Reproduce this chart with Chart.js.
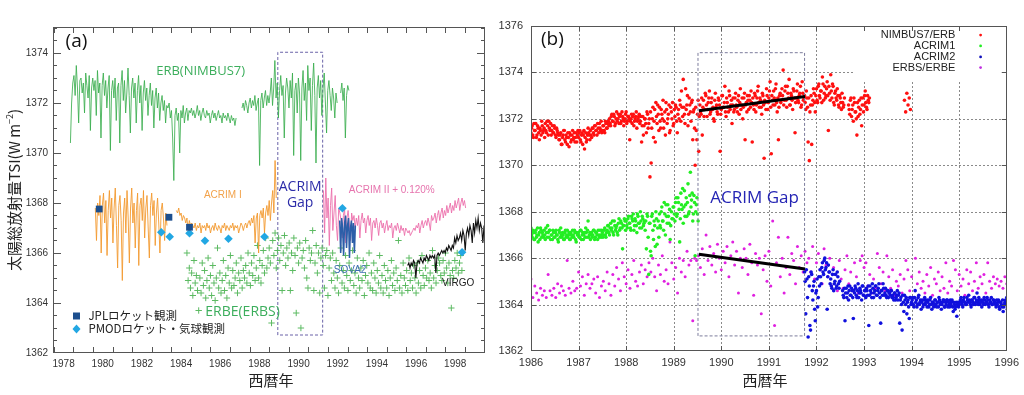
<!DOCTYPE html>
<html>
<head>
<meta charset="utf-8">
<title>太陽総放射量 TSI</title>
<script src="https://cdn.jsdelivr.net/npm/chart.js@4.4.1/dist/chart.umd.min.js"></script>
<style>
  html, body { margin: 0; padding: 0; background: #fff; }
  #wrap { position: relative; width: 1024px; height: 395px; overflow: hidden; }
  canvas { position: absolute; top: 0; }
  #chartA { left: 0; }
  #chartB { left: 490px; }
</style>
</head>
<body>
<div id="wrap">
  <canvas id="chartA" width="490" height="395"></canvas>
  <canvas id="chartB" width="534" height="395"></canvas>
</div>
<script>
// ===== (a) 各観測の TSI =====
const yearTicksA = [1978, 1980, 1982, 1984, 1986, 1988, 1990, 1992, 1994, 1996, 1998];
const tsiTicksA = [1362, 1364, 1366, 1368, 1370, 1372, 1374];

const erbStart = 1978.35, erbStep = 0.06;
const erb = [
  1370.4, 1372.0, 1372.8, 1373.1, 1372.3, 1373.5, 1372.6, 1371.2, 1372.9, 1373.0,
  1372.4, 1372.8, 1371.6, 1373.2, 1372.7, 1372.2, 1373.1, 1370.9, 1372.6, 1373.0,
  1372.5, 1372.9, 1371.5, 1373.3, 1372.4, 1372.8, 1370.6, 1372.7, 1373.2, 1372.3,
  1372.9, 1371.8, 1372.6, 1373.1, 1370.1, 1372.5, 1372.9, 1372.2, 1373.0, 1371.3,
  1372.6, 1372.8, 1370.4, 1372.7, 1373.3, 1372.1, 1372.9, 1371.6, 1372.4, 1373.4,
  1372.3, 1370.8, 1372.6, 1373.0, 1372.2, 1372.8, 1371.2, 1372.5, 1373.1, 1372.0,
  1372.7, 1370.9, 1372.4, 1372.9, 1372.1, 1372.6, 1371.5, 1372.3, 1372.8, 1371.9,
  1372.5, 1371.0, 1372.2, 1372.6, 1371.8, 1372.4, 1371.3, 1372.0, 1372.3, 1371.7,
  1372.1, 1371.2, 1371.9,
  1371.8, 1372.0, 1371.4, 1371.7, 1370.6, 1368.9, 1371.5, 1371.8, 1371.3, 1371.6,
  1370.0, 1371.7, 1371.4, 1371.9, 1371.2, 1371.6, 1371.8, 1371.3, 1371.7,
  1371.6, 1371.8, 1371.5, 1371.7, 1371.4, 1371.6, 1371.9, 1371.5, 1371.7, 1371.3,
  1371.6, 1371.8, 1371.5, 1371.4, 1371.7, 1371.5, 1371.6, 1371.2, 1371.5, 1371.7,
  1371.4, 1371.6, 1371.3, 1371.5, 1371.7, 1371.4, 1371.5, 1371.2, 1371.6, 1371.4,
  1371.5, 1371.3, 1371.6, 1371.4, 1371.2, 1371.5, 1371.3, 1371.4, 1371.1, 1371.4,
  null, null, null, null,
  1371.8, 1372.0, 1371.7, 1372.1, 1371.9, 1371.6, 1372.0, 1372.2, 1371.8, 1372.1,
  1371.9, 1372.3, 1371.7, 1372.0, 1372.2, 1369.5, 1372.1, 1372.4, 1371.8, 1372.2,
  1372.5, 1371.9, 1372.3, 1372.0,
  1372.4, 1373.0, 1371.9, 1372.6, 1373.7, 1372.2, 1372.8, 1371.4, 1372.5, 1373.1,
  1372.3, 1372.7, 1370.6, 1372.4, 1373.0, 1372.6, 1371.8, 1372.9, 1372.2, 1373.2,
  1369.9, 1372.5, 1372.8, 1371.6, 1373.0, 1372.4, 1369.7, 1372.6, 1373.3, 1372.1,
  1372.8, 1371.3, 1373.5, 1372.5, 1373.0, 1370.9, 1372.7, 1373.6, 1372.3, 1369.6,
  1372.6, 1373.1, 1372.2, 1372.9, 1371.5, 1372.6, 1373.2, 1372.0, 1370.8, 1372.5,
  1372.9, 1372.3, 1371.7, 1372.6, 1372.2, 1371.4, 1372.4, 1372.0,
  null, null,
  1372.4, 1372.8, 1372.1, 1372.6, 1370.6, 1372.3, 1372.7, 1372.5
];

const acrim1Start = 1979.62, acrim1Step = 0.06;
const acrim1 = [
  1367.8, 1366.5, 1368.0, 1367.5, 1368.3, 1366.0, 1367.9, 1368.4, 1367.2, 1368.1,
  1365.9, 1367.7, 1368.5, 1367.4, 1368.2, 1366.4, 1367.8, 1368.6, 1367.1, 1365.4,
  1367.9, 1368.3, 1367.3, 1364.9, 1367.6, 1368.2, 1366.8, 1368.5, 1367.4, 1365.6,
  1367.8, 1368.6, 1367.2, 1368.0, 1366.2, 1367.7, 1368.4, 1365.5, 1367.9, 1368.2,
  1367.3, 1368.5, 1366.6, 1367.8, 1368.3, 1367.0, 1365.8, 1367.9, 1368.4, 1367.5,
  1368.1, 1366.3, 1367.6, 1368.2, 1367.2, 1366.0, 1367.7, 1368.0, 1367.4, 1366.5,
  1367.6, 1367.1,
  null, null, null, null, null, null, null,
  1367.7, 1367.6, 1367.8, 1367.5, 1367.6, 1367.3, 1367.5, 1367.4, 1367.2, 1367.4,
  1366.9, 1367.3, 1367.1, 1367.2,
  1367.1, 1367.0, 1367.2, 1366.9, 1367.1, 1367.0, 1367.2, 1366.8, 1367.1, 1367.0,
  1367.1, 1366.9, 1367.2, 1367.0, 1367.1, 1366.8, 1367.0, 1367.1, 1366.9, 1367.2,
  1367.0, 1366.9, 1367.1, 1367.0, 1366.8, 1367.1, 1367.0, 1367.2, 1366.9, 1367.1,
  1367.0, 1366.9, 1367.1, 1367.0, 1367.2, 1366.9, 1367.1, 1367.0, 1367.1, 1366.8,
  1367.0, 1367.2, 1367.1, 1366.9, 1367.1, 1367.2, 1367.0, 1367.2,
  1367.3, 1367.1, 1367.4, 1367.2, 1367.5, 1366.4, 1367.4, 1367.6, 1366.0, 1367.5,
  1367.7, 1367.4, 1367.8, 1366.8, 1367.6, 1367.9, 1367.5, 1368.1, 1367.3, 1368.0,
  1368.5, 1367.6, 1369.7, 1368.2
];

const acrim2Start = 1991.27, acrim2Step = 0.06;
const acrim2 = [
  1368.5, 1366.8, 1369.0, 1367.4, 1368.2, 1366.3, 1367.9, 1368.6, 1366.9, 1367.6,
  1368.3, 1367.1, 1366.5, 1367.8,
  1367.6, 1367.3, 1366.6, 1367.5, 1367.8, 1366.4, 1367.4, 1367.7, 1367.2, 1366.5,
  1367.6, 1367.3, 1367.5, 1367.0,
  1367.4, 1367.1, 1367.5, 1366.6, 1367.3, 1367.6, 1367.2, 1367.4, 1366.8, 1367.3,
  1367.5, 1367.1, 1367.4, 1366.5, 1367.2, 1367.3, 1367.0, 1367.4, 1367.1, 1366.7,
  1367.2, 1367.3, 1367.0, 1367.2, 1366.8, 1367.1, 1367.3, 1366.9, 1367.1, 1367.0,
  1367.2, 1366.6, 1367.0, 1367.1, 1366.9, 1367.2, 1367.0, 1366.8, 1367.1, 1366.9,
  1367.0, 1366.7, 1367.0, 1366.9,
  1366.8, 1366.9, 1366.7, 1366.8, 1366.9,
  1367.0, 1366.9, 1367.1, 1367.0, 1367.2, 1366.8, 1367.1, 1367.3, 1367.0, 1367.2,
  1367.3, 1367.1, 1367.4, 1367.2, 1366.9, 1367.5, 1367.3, 1367.4, 1367.6, 1367.2,
  1367.5, 1367.7, 1367.3, 1367.6, 1367.8, 1367.4, 1367.7, 1367.5, 1367.9, 1367.6,
  1367.8, 1368.0, 1367.6, 1367.9, 1367.7, 1368.1, 1367.8, 1368.0, 1368.2, 1367.7,
  1368.0, 1368.2, 1367.9, 1368.1, 1367.8
];

const sova2Start = 1992.1, sova2Step = 0.05;
const sova2 = [1367.3, 1366.0, 1367.4, 1367.0, 1365.9, 1367.2, 1367.5, 1366.2, 1367.1,
  1367.4, 1365.8, 1367.0, 1367.3, 1366.4, 1367.2, 1366.0, 1367.1];

const virgoStart = 1995.57, virgoStep = 0.06;
const virgo = [
  1365.5, 1365.6, 1365.4, 1365.6, 1365.5, 1365.7, 1365.6, 1365.0, 1365.6, 1365.7,
  1365.6, 1365.8, 1365.7, 1365.6, 1365.8, 1365.7, 1365.9, 1365.8, 1365.7, 1365.9,
  1365.8, 1365.9, 1365.8, 1365.9, 1365.2, 1365.9, 1366.0, 1365.9, 1366.0, 1366.1,
  1366.0, 1366.1, 1366.0, 1366.2, 1366.1, 1366.3, 1366.2, 1366.1, 1366.3, 1366.2,
  1366.6, 1366.4, 1366.7, 1366.5, 1366.6, 1366.8, 1366.5, 1366.9, 1366.7, 1366.1,
  1366.8, 1367.0, 1366.7, 1367.1, 1366.9, 1366.4, 1367.2, 1366.8, 1367.3, 1367.0,
  1367.4, 1366.9, 1367.2, 1367.0, 1366.4, 1367.1
];

const erbeStart = 1984.3, erbeStep = 0.06;
const erbe = [
  1366.0, 1364.9, 1365.4, 1364.6, 1365.2, 1364.3, 1365.7, 1364.8, 1365.1, 1364.5,
  1363.7, 1365.0, 1364.4, 1365.6, 1364.7, 1365.3, 1364.2, 1364.9, 1365.8, 1364.6,
  1365.1, 1364.3, 1365.5, 1364.8, 1364.1, 1365.0, 1366.2, 1364.6, 1365.2, 1364.4,
  1364.9, 1365.7, 1364.5, 1365.1, 1364.2, 1365.4, 1364.8, 1365.9, 1364.6, 1365.3,
  1364.7, 1365.0, 1365.6, 1364.4, 1365.2, 1364.9, 1365.8, 1364.6, 1365.3, 1365.0,
  1365.5, 1364.8, 1366.0, 1365.2, 1364.7, 1365.6, 1365.1, 1365.9, 1364.9, 1365.4,
  1366.3, 1365.0, 1365.7, 1364.8, 1365.5, 1366.1, 1365.2, 1366.6, 1365.4, 1365.8,
  1366.2, 1365.6, 1363.2, 1366.5, 1365.9, 1366.8, 1365.4, 1366.1, 1366.6, 1365.7,
  1366.3, 1364.5, 1366.0, 1366.7, 1365.5, 1366.2, 1365.8, 1366.4, 1364.5, 1366.0,
  1365.3, 1366.6, 1365.9, 1363.6, 1366.2, 1365.6, 1366.4, 1363.0, 1365.8, 1366.1,
  1365.4, 1366.5, 1365.0, 1364.6, 1366.2, 1365.7, 1366.0, 1366.9, 1364.5, 1365.6,
  1366.3, 1365.2, 1366.0, 1364.4, 1365.8, 1366.2, 1365.5,
  1364.6, 1365.9, 1366.1, 1364.3, 1365.4, 1365.8, 1364.9, 1366.0, 1365.2, 1364.6,
  1365.7, 1365.0, 1364.4, 1365.5, 1366.2, 1364.8, 1365.3, 1364.6, 1365.9, 1365.1,
  1364.5, 1365.6, 1364.9, 1365.3, 1366.1, 1364.7, 1365.2, 1364.4, 1365.8, 1365.0,
  1364.6, 1365.4, 1364.9, 1365.7, 1364.3, 1365.1, 1365.5, 1364.8, 1366.0, 1364.6,
  1365.2, 1364.5, 1365.6, 1365.0, 1364.4, 1365.3, 1364.8, 1365.9, 1364.6, 1365.1,
  1364.4, 1365.5, 1364.9, 1364.6, 1365.3, 1364.3, 1365.0, 1365.7, 1364.7, 1365.2,
  1364.5, 1365.4, 1364.9, 1366.5, 1364.6, 1365.1, 1364.4, 1365.6, 1365.0, 1364.7,
  1365.3, 1364.5, 1365.8, 1364.9, 1365.2, 1364.6, 1365.5, 1365.0, 1364.4, 1365.6,
  1364.8, 1365.3, 1364.6, 1365.9, 1365.1, 1364.7, 1365.4, 1365.0, 1365.7, 1364.9,
  1365.2, 1364.6, 1366.1, 1365.0, 1365.5, 1364.8, 1365.3, 1365.8, 1365.6, 1365.1,
  1364.9, 1365.7, 1365.2, 1366.0, 1365.4, 1364.8, 1365.6, 1365.1, 1363.8, 1365.3,
  1365.0, 1365.7, 1365.4, 1366.0, 1365.2, 1365.6, 1365.9, 1365.3
];

const jplYears = [1979.82, 1983.38, 1984.43];
const jplTsi = [1367.76, 1367.43, 1367.03];
const pmodYears = [1982.99, 1983.42, 1984.43, 1985.22, 1986.42, 1988.26, 1992.24, 1998.35];
const pmodTsi = [1366.83, 1366.65, 1366.79, 1366.49, 1366.57, 1366.65, 1367.79, 1366.03];
const gapYearsA = [1988.94, 1991.23];
const gapTsiA = [1362.72, 1374.03];

// ===== (b) ACRIM Gap 周辺 =====
const yearTicksB = [1986, 1987, 1988, 1989, 1990, 1991, 1992, 1993, 1994, 1995, 1996];
const tsiTicksB = [1362, 1364, 1366, 1368, 1370, 1372, 1374, 1376];
const legendB = ['NIMBUS7/ERB', 'ACRIM1', 'ACRIM2', 'ERBS/ERBE'];
const stepB = 0.025;

const nimbusStart = 1986.0;
const nimbus = [
  1371.4, 1371.7, 1371.2, 1371.5, 1371.8, 1371.3, 1371.6, 1371.1, 1371.5, 1371.9, 1371.4, 1371.6,
  1371.8, 1371.4, 1371.7, 1371.9, 1371.5, 1371.3, 1371.7, 1371.4, 1371.6, 1371.2, 1371.5, 1371.3,
  1371.1, 1371.4, 1370.9, 1371.3, 1371.5, 1371.0, 1371.2, 1371.4, 1370.8, 1371.3, 1371.1, 1371.5,
  1371.2, 1371.0, 1371.4, 1371.3,
  1371.2, 1371.5, 1371.0, 1371.4, 1371.3, 1370.7, 1371.4, 1371.1, 1371.6, 1371.3, 1371.5, 1371.2,
  1371.6, 1371.3, 1371.7, 1371.5, 1371.8, 1371.4, 1371.6, 1371.9, 1371.5, 1371.7, 1371.4, 1371.8,
  1371.6, 1371.9,
  1372.0, 1371.7, 1372.2, 1371.9, 1372.1, 1371.8, 1372.3, 1372.0, 1371.8, 1372.2, 1371.9, 1372.1,
  1371.7, 1372.0, 1372.3, 1371.9, 1372.1, 1371.1, 1372.0, 1371.8, 1372.2, 1371.9, 1372.1, 1371.6,
  1372.0, 1372.2,
  1371.9, 1371.0, 1372.1, 1371.7, 1372.0, 1371.4, 1372.2, 1371.8,
  1369.5, 1370.1, 1372.0, 1371.2, 1372.4, 1372.7, 1371.8, 1372.2,
  1372.5, 1371.6, 1372.2, 1372.8, 1371.9, 1371.3, 1372.4, 1372.0, 1372.6, 1371.5, 1372.3, 1372.7,
  1371.8, 1372.1, 1372.5, 1371.4,
  1372.4, 1372.8, 1371.9, 1372.5, 1373.7, 1372.2, 1373.3, 1372.6, 1371.7, 1372.9, 1372.3, 1372.7,
  1371.1, 1372.4,
  1370.0, 1371.5, 1372.2, 1370.6,
  1372.6, 1372.2, 1371.3, 1372.8, 1372.4, 1373.0, 1372.1, 1372.7, 1373.2, 1372.3,
  1372.9, 1372.5, 1371.9, 1373.1, 1372.6, 1372.2, 1372.8, 1370.6, 1372.4, 1373.0,
  1372.5, 1373.4, 1372.1, 1372.7, 1372.3, 1373.0, 1372.6, 1371.8, 1372.9, 1372.4,
  1373.1, 1372.5, 1372.8, 1372.2, 1373.3, 1372.6, 1372.0, 1372.9, 1371.1, 1372.7,
  1373.0, 1372.4, 1372.8, 1373.2, 1371.0, 1372.6, 1373.1, 1372.3, 1372.9, 1373.4,
  1372.5, 1372.8, 1372.2, 1373.0, 1370.3, 1372.7, 1373.3, 1372.4, 1372.9, 1373.6,
  1370.5, 1372.8, 1373.2, 1372.6, 1373.5, 1372.3, 1371.1, 1373.0, 1372.7, 1373.3,
  1374.1, 1372.8, 1373.4, 1372.5, 1373.1, 1373.7, 1372.6, 1373.0, 1372.4, 1373.2,
  1371.4, 1372.9, 1373.5, 1372.7, 1373.1, 1372.5, 1373.6, 1372.8,
  1373.0, 1372.4, 1372.9, 1371.0, 1370.2, 1372.6, 1370.9, 1372.8, 1373.1, 1372.3,
  1373.3, 1372.7, 1373.5, 1372.9, 1373.2, 1373.8, 1372.8, 1373.4, 1373.0, 1373.6,
  1371.5, 1373.1, 1373.9, 1372.9, 1373.4, 1372.6, 1373.2, 1372.8, 1373.0, 1372.5,
  1372.9, 1372.4, 1372.7, 1372.6,
  null, null, null,
  1372.6, 1372.2, 1372.9, 1372.4, 1371.9, 1372.7, 1372.3, 1371.3, 1372.1, 1372.8,
  1372.4, 1371.7, 1372.9, 1372.6, 1373.2, 1372.5, 1373.0, 1372.7
];
// 半ステップずらした2本目の日次サンプル
const nimbusBStart = 1986.0125;
const nimbusB = [
  1371.6, 1371.3, 1371.8, 1371.5, 1371.2, 1371.7, 1371.4, 1371.6, 1371.3, 1371.7, 1371.5, 1371.2,
  1371.5, 1371.9, 1371.3, 1371.6, 1371.8, 1371.5, 1371.4, 1371.7, 1371.3, 1371.6, 1371.4, 1371.1,
  1371.3, 1370.9, 1371.2, 1371.5, 1371.1, 1371.3, 1370.9, 1371.2, 1371.4, 1371.0, 1371.3, 1371.1,
  1371.4, 1371.2, 1371.0, 1371.5,
  1371.4, 1371.1, 1371.3, 1370.9, 1371.5, 1371.2, 1371.0, 1371.3, 1371.4, 1371.1, 1371.3, 1371.6,
  1371.4, 1371.7, 1371.5, 1371.3, 1371.6, 1371.8, 1371.5, 1371.4, 1371.7, 1371.5, 1371.9, 1371.6,
  1371.8, 1371.7,
  1371.8, 1372.1, 1371.9, 1372.2, 1371.7, 1372.0, 1371.9, 1372.2, 1372.1, 1371.8, 1372.3, 1372.0,
  1371.9, 1372.2, 1371.8, 1372.1, 1372.0, 1371.9, 1372.2, 1372.1, 1371.7, 1372.0, 1372.3, 1371.9,
  1372.1, 1371.8,
  1372.1, 1371.7, 1371.3, 1372.0, 1371.8, 1372.3, 1371.6, 1372.0,
  1372.3, 1371.6, 1372.5, 1371.9, 1371.0, 1372.1, 1372.6, 1371.5,
  1371.9, 1372.4, 1372.0, 1371.6, 1372.3, 1372.7, 1371.8, 1372.2, 1371.4, 1372.5, 1372.0, 1371.7,
  1372.4, 1372.6, 1371.9, 1372.2,
  1372.0, 1372.6, 1373.2, 1372.1, 1372.5, 1371.8, 1372.4, 1373.0, 1372.2, 1372.6, 1371.9, 1372.8,
  1372.3, 1371.6,
  1372.5, 1371.1, 1372.8, 1372.1,
  1372.3, 1372.9, 1372.5, 1372.1, 1373.1, 1372.6, 1372.4, 1372.9, 1372.2, 1372.7,
  1372.4, 1372.0, 1372.8, 1372.5, 1372.3, 1372.9, 1372.6, 1372.2, 1373.0, 1372.5,
  1372.7, 1372.3, 1372.9, 1372.5, 1373.2, 1372.4, 1372.8, 1372.6, 1372.3, 1372.9,
  1372.6, 1372.3, 1373.0, 1372.7, 1372.4, 1372.9, 1372.5, 1373.1, 1372.6, 1372.3,
  1372.8, 1373.0, 1372.5, 1372.7, 1372.9, 1372.4, 1373.0, 1372.6, 1373.2, 1372.7,
  1372.9, 1372.5, 1373.1, 1372.6, 1372.8, 1372.4, 1373.0, 1372.7, 1373.2, 1372.5,
  1373.0, 1372.6, 1372.9, 1373.3, 1372.7, 1372.9, 1372.5, 1373.1, 1372.8, 1373.0,
  1372.6, 1373.2, 1372.8, 1373.4, 1372.9, 1372.6, 1373.1, 1372.8, 1373.3, 1372.9,
  1372.7, 1373.2, 1372.8, 1373.0, 1373.4, 1372.6, 1373.1, 1372.9,
  1372.7, 1373.2, 1372.5, 1372.9, 1372.3, 1373.0, 1372.6, 1373.3, 1372.7, 1373.0,
  1372.8, 1373.4, 1373.0, 1373.2, 1372.7, 1373.5, 1373.1, 1372.9, 1373.3, 1373.0,
  1373.4, 1372.8, 1373.2, 1373.5, 1372.7, 1373.1, 1372.9, 1373.3, 1372.6, 1373.0,
  1372.7, 1373.1, 1372.5, 1372.9,
  null, null, null,
  1372.4, 1372.8, 1372.1, 1372.6, 1372.9, 1372.3, 1372.0, 1372.7, 1372.5, 1372.2,
  1372.9, 1372.6, 1372.3, 1373.0, 1372.7, 1372.4, 1372.8, 1372.9
];
const nimbusLateStart = 1993.85;
const nimbusLate = [1372.8, 1372.3, 1373.1, 1372.6, 1372.9, 1372.4];

const acrimOneStart = 1986.0;
const acrimOne = [
  1367.3, 1366.9, 1367.1, 1366.8, 1367.2, 1367.0, 1366.7, 1367.1, 1367.3, 1366.9,
  1367.0, 1367.2, 1366.8, 1367.1, 1367.4, 1366.9, 1367.2, 1367.0, 1366.8, 1367.1,
  1366.9, 1367.2, 1367.0, 1366.7, 1367.1, 1367.3, 1366.9, 1367.0, 1366.8, 1367.2,
  1367.0, 1366.9, 1367.1, 1366.8, 1367.0, 1367.2, 1366.9, 1367.1, 1366.7, 1367.0,
  1367.1, 1366.9, 1367.2, 1367.0, 1366.8, 1367.1, 1367.3, 1366.9, 1367.6, 1367.0,
  1366.8, 1367.1, 1367.0, 1367.2, 1366.9, 1367.1, 1366.8, 1367.0, 1367.2, 1366.9,
  1367.1, 1367.0, 1367.3, 1366.9,
  1367.2, 1367.4, 1367.0, 1367.5, 1367.3, 1367.1, 1367.6, 1367.2, 1367.4, 1367.0,
  1367.7, 1367.3, 1367.5, 1366.4, 1367.4, 1367.6,
  1367.6, 1367.3, 1367.8, 1367.5, 1367.2, 1367.7, 1367.9, 1367.4, 1367.6, 1367.1,
  1367.8, 1367.5, 1368.0, 1367.3, 1367.7, 1367.5,
  1367.2, 1366.4, 1367.8, 1365.3, 1367.5, 1366.1, 1367.9, 1366.8, 1367.4, 1368.0,
  1366.6, 1367.6,
  1367.9, 1367.3, 1368.2, 1367.6, 1368.4, 1367.0, 1367.8, 1368.3, 1367.5, 1366.8,
  1368.0, 1367.7,
  1368.2, 1367.6, 1368.6, 1367.9, 1368.4, 1366.7, 1368.8, 1368.1, 1367.5, 1368.9,
  1368.3, 1367.8, 1369.2, 1368.0, 1369.7, 1368.5, 1367.6, 1368.7, 1366.1, 1368.3,
  1367.9
];
const acrimOneBStart = 1986.0125;
const acrimOneB = [
  1367.0, 1367.2, 1366.8, 1367.1, 1366.9, 1367.3, 1367.0, 1366.8, 1367.2, 1367.1,
  1366.9, 1367.0, 1367.3, 1366.9, 1367.1, 1367.2, 1366.8, 1367.0, 1367.2, 1366.9,
  1367.1, 1367.0, 1366.8, 1367.2, 1366.9, 1367.0, 1367.1, 1366.8, 1367.1, 1366.9,
  1367.2, 1367.0, 1366.8, 1367.1, 1366.9, 1367.0, 1367.2, 1366.8, 1367.1, 1367.0,
  1366.9, 1367.2, 1366.8, 1367.1, 1367.0, 1366.9, 1367.1, 1367.2, 1366.9, 1367.1,
  1367.0, 1366.9, 1367.2, 1366.8, 1367.1, 1367.0, 1367.2, 1366.9, 1367.0, 1367.2,
  1366.9, 1367.2, 1367.0, 1367.1,
  1367.4, 1367.1, 1367.3, 1367.2, 1367.6, 1367.0, 1367.4, 1367.3, 1367.1, 1367.5,
  1367.2, 1367.6, 1367.3, 1367.4, 1367.7, 1367.2,
  1367.4, 1367.7, 1367.5, 1367.3, 1367.8, 1367.6, 1367.2, 1367.7, 1367.4, 1367.9,
  1367.5, 1367.3, 1367.6, 1367.8, 1367.4, 1367.6,
  1367.6, 1367.9, 1366.9, 1367.5, 1366.3, 1367.8, 1367.2, 1367.6, 1366.5, 1367.7,
  1367.3, 1366.9,
  1367.4, 1368.0, 1367.6, 1367.2, 1367.9, 1368.3, 1367.5, 1367.8, 1368.1, 1367.4,
  1367.7, 1368.2,
  1367.9, 1368.4, 1367.8, 1368.6, 1368.1, 1367.7, 1368.3, 1369.0, 1368.2, 1367.8,
  1368.6, 1368.4, 1367.9, 1368.7, 1368.2, 1368.8, 1367.9, 1368.4, 1368.0, 1368.6,
  1367.6
];

const acrimTwoStart = 1991.75;
const acrimTwo = [
  1365.4, 1363.6, 1365.1, 1362.6, 1364.8, 1362.9, 1365.3,
  1364.2, 1365.0, 1363.3, 1364.6, 1363.9, 1365.2,
  1365.5, 1364.9, 1365.8, 1365.3, 1366.0, 1365.6, 1363.8, 1365.7, 1365.4,
  1365.1, 1364.7, 1365.5, 1364.9, 1365.3, 1364.8, 1365.2, 1364.7,
  null, null,
  1364.6, 1364.3, 1363.3, 1364.7, 1364.5, 1364.2, 1364.8, 1364.4, 1364.6, 1363.4,
  1364.5, 1364.7, 1364.3, 1364.9, 1364.5, 1364.6, 1364.2, 1364.8, 1364.4, 1364.6,
  1364.7, 1364.4, 1363.1, 1364.8, 1364.5, 1364.9, 1364.3, 1364.6, 1364.8, 1364.4,
  1364.7, 1364.5, 1363.2, 1364.6, 1364.9, 1364.4, 1364.7, 1364.3, 1364.6, 1364.5,
  1364.4, 1364.6,
  1364.4, 1364.2, 1364.5, 1364.3, 1364.6, 1364.4,
  1363.2, 1364.3, 1362.9, 1364.1, 1364.4, 1364.0, 1363.6, 1364.2, 1363.4, 1364.3,
  1364.1, 1364.3, 1363.9, 1364.6, 1364.2, 1364.0, 1364.4, 1364.1, 1363.8, 1364.2,
  1364.0, 1364.3, 1364.1, 1363.9, 1364.2, 1364.0, 1364.3, 1363.8, 1364.1, 1364.0,
  1364.2, 1363.9, 1364.1, 1364.3, 1364.0, 1363.8, 1364.1, 1364.2, 1363.9, 1364.0,
  1364.2, 1364.1, 1363.9, 1364.0, 1364.2, 1363.7, 1364.0, 1363.9, 1363.5, 1364.1,
  1364.0, 1364.2, 1364.1, 1363.9, 1364.3, 1364.1, 1364.0, 1364.2, 1364.4, 1364.1,
  1363.9, 1364.2, 1364.0, 1364.3, 1364.1, 1364.5, 1364.0, 1364.2, 1364.1, 1363.9,
  1364.2, 1364.3, 1364.0, 1364.1, 1364.2, 1363.9, 1364.1, 1364.3, 1364.0, 1364.2,
  1364.1, 1363.9, 1364.0, 1364.2, 1363.8, 1364.1, 1363.9, 1363.7, 1364.0, 1364.2,
  1364.3
];
const acrimTwoBStart = 1991.7625;
const acrimTwoB = [
  1365.0, 1365.5, 1364.3, 1365.2, 1363.1, 1365.4, 1364.6,
  1364.8, 1363.8, 1364.5, 1365.1, 1364.3, 1364.8,
  1365.2, 1365.6, 1365.4, 1365.9, 1365.5, 1365.8, 1365.2, 1365.4, 1364.9,
  1364.8, 1365.3, 1364.6, 1365.0, 1364.7, 1365.4, 1364.9, 1365.0,
  null, null,
  1364.4, 1364.7, 1364.5, 1364.3, 1364.8, 1364.6, 1364.4, 1364.7, 1364.3, 1364.6,
  1364.8, 1364.4, 1364.6, 1364.3, 1364.7, 1364.5, 1364.8, 1364.4, 1364.6, 1364.3,
  1364.6, 1364.8, 1364.4, 1364.6, 1364.3, 1364.7, 1364.5, 1364.8, 1364.4, 1364.6,
  1364.9, 1364.3, 1364.6, 1364.4, 1364.7, 1364.5, 1364.4, 1364.6, 1364.3, 1364.5,
  1364.6, 1364.3,
  1364.3, 1364.5, 1364.2, 1364.4, 1364.2, 1364.5,
  1364.2, 1364.0, 1364.4, 1363.7, 1364.2, 1364.3, 1364.1, 1363.9, 1364.3, 1364.0,
  1364.2, 1364.0, 1364.3, 1364.1, 1363.9, 1364.3, 1364.0, 1364.2, 1364.1, 1363.9,
  1364.2, 1364.0, 1364.2, 1364.1, 1363.9, 1364.2, 1364.0, 1364.1, 1363.9, 1364.2,
  1364.0, 1364.1, 1363.9, 1364.2, 1364.1, 1364.0, 1364.2, 1363.9, 1364.1, 1364.2,
  1363.9, 1364.0, 1364.2, 1364.1, 1363.9, 1364.1, 1363.8, 1364.1, 1364.0, 1363.9,
  1364.1, 1364.3, 1364.0, 1364.2, 1364.1, 1364.0, 1364.3, 1364.1, 1364.2, 1364.0,
  1364.2, 1364.1, 1364.3, 1364.0, 1364.2, 1364.1, 1364.3, 1364.0, 1364.2, 1364.1,
  1364.0, 1364.2, 1364.1, 1364.3, 1364.0, 1364.2, 1364.1, 1364.0, 1364.2, 1364.1,
  1364.0, 1364.2, 1364.1, 1363.9, 1364.1, 1364.0, 1364.2, 1363.9, 1364.1, 1364.0,
  1363.8
];

const erbsStart = 1986.0, erbsStep = 0.04;
const erbs = [
  1365.1, 1364.3, 1364.8, 1364.5, 1364.2, 1364.7, 1364.4, 1364.6, 1364.3, 1365.3,
  1364.6, 1364.4, 1364.7, 1364.3, 1364.9, 1364.5, 1364.8, 1364.6, 1364.4, 1365.9,
  1364.7, 1364.5, 1365.0, 1364.6, 1364.7, 1365.4, 1364.8, 1365.2, 1364.4, 1364.9,
  1365.3, 1364.7, 1364.9, 1365.1, 1364.5, 1365.2, 1364.3, 1364.8, 1365.0, 1364.6,
  1365.4, 1364.9, 1364.4,
  1365.3, 1364.8, 1365.6, 1365.1, 1364.6, 1365.8, 1365.2, 1364.9, 1365.5, 1364.7,
  1365.3, 1365.9, 1365.0, 1364.8, 1365.4, 1365.7, 1364.9, 1365.5, 1365.2, 1365.8,
  1365.4, 1366.0, 1365.2, 1364.6, 1365.7, 1365.3, 1366.1, 1365.0, 1365.5, 1364.9,
  1366.7, 1365.8, 1365.1, 1365.6, 1364.5, 1366.0, 1365.4, 1365.9, 1365.2, 1366.3,
  1365.7, 1365.9, 1363.3, 1366.0, 1365.9,
  1366.1, 1365.6, 1366.4, 1365.3, 1367.0, 1365.9, 1366.5, 1365.7, 1366.2, 1365.4,
  1366.6, 1366.0, 1365.5, 1366.3, 1365.8, 1366.5, 1365.2, 1366.1, 1366.7, 1365.7,
  1366.3, 1364.5, 1366.0, 1365.6, 1366.4, 1366.0, 1365.3, 1366.6, 1365.8, 1364.4,
  1366.2, 1365.7, 1366.0, 1363.6, 1365.5, 1366.1, 1365.0, 1366.3, 1364.8, 1367.6,
  1363.1, 1365.8, 1366.9, 1365.2, 1366.0, 1364.5, 1365.6, 1366.9, 1365.3, 1366.2,
  1365.9, 1364.9, 1366.5, 1365.6, 1366.1, 1365.4, 1366.3, 1365.8,
  1366.0, 1365.4, 1366.5, 1365.1, 1365.8, 1366.2, 1365.5, 1364.9, 1366.4, 1365.7,
  1365.2, 1366.0, 1364.8, 1365.6, 1365.3, 1364.6, 1365.9, 1365.1, 1364.7, 1365.5,
  1366.1, 1364.9, 1365.4, 1364.6, 1365.8, 1365.2, 1364.5, 1365.9, 1366.1, 1365.6,
  1365.8, 1364.8, 1365.3, 1364.5, 1365.1, 1364.7, 1366.2, 1365.6, 1364.9, 1365.4,
  1364.6, 1366.1, 1365.2, 1364.7, 1365.5, 1364.4, 1365.0, 1364.8, 1365.3, 1364.5,
  1365.1, 1365.9, 1365.5, 1364.6, 1365.2, 1364.3, 1366.0, 1364.9, 1365.4, 1364.7,
  1365.0, 1364.5, 1365.3, 1364.8, 1365.6, 1364.4, 1365.1, 1364.9, 1365.4, 1364.6,
  1365.2, 1364.7, 1365.8, 1364.5, 1365.0, 1364.8, 1365.9, 1365.5, 1364.6, 1365.3,
  1364.8, 1365.1, 1364.4, 1365.5, 1364.9, 1365.4, 1364.6, 1365.0, 1365.8, 1364.7,
  1365.2, 1364.9, 1365.3, 1364.5, 1365.8, 1365.0, 1364.7, 1365.2, 1364.9, 1365.1,
  1364.8, 1365.0, 1364.7, 1365.2, 1364.9
];

const trendYears = [1989.53, 1991.76];
const trendNimbus = [1372.35, 1372.96];
const trendErbs = [1366.17, 1365.53];
const gapYearsB = [1989.51, 1991.75];
const gapTsiB = [1362.65, 1374.85];

// ---------- helpers ----------
function toPoints(start, step, vals) {
  return vals.map((v, i) => ({ x: start + i * step, y: v }));
}
function pairPoints(xs, ys) {
  return xs.map((x, i) => ({ x: x, y: ys[i] }));
}
function boxPoints(xs, ys) {
  return [{ x: xs[0], y: ys[0] }, { x: xs[0], y: ys[1] }, { x: xs[1], y: ys[1] },
          { x: xs[1], y: ys[0] }, { x: xs[0], y: ys[0] }];
}
function lineSet(data, color, width) {
  return { data: data, showLine: true, borderColor: color, borderWidth: width,
           pointRadius: 0, fill: false, spanGaps: false };
}
function dotSet(data, color, r) {
  return { data: data, pointRadius: r, pointBackgroundColor: color, pointBorderWidth: 0,
           borderWidth: 0 };
}
function text(ctx, s, x, y, font, color, align) {
  ctx.font = font;
  ctx.fillStyle = color;
  ctx.textAlign = align || 'center';
  ctx.textBaseline = 'middle';
  ctx.fillText(s, x, y);
}

Chart.defaults.font.family = "'Liberation Sans', Arial, sans-serif";
Chart.defaults.color = '#333';

const jpFont = "'Noto Sans CJK JP', sans-serif";
const roundFont = "'Open Sans', 'Noto Sans', sans-serif";

// ---------- (a) 装飾 ----------
const decorA = {
  id: 'decorA',
  afterDatasetsDraw(chart) {
    const { ctx, chartArea: a, scales: { x, y } } = chart;
    ctx.save();
    ctx.strokeStyle = '#555';
    ctx.lineWidth = 1;
    ctx.strokeRect(Math.round(a.left) + 0.5, Math.round(a.top) + 0.5, Math.round(a.width) - 1, Math.round(a.height) - 1);
    ctx.beginPath();
    for (let yr = 1977; yr <= 1999; yr++) {
      const px = Math.round(x.getPixelForValue(yr + 0.5)) + 0.5;
      if (px <= a.left + 1 || px >= a.right - 1) continue;
      ctx.moveTo(px, a.bottom); ctx.lineTo(px, a.bottom - 6);
      ctx.moveTo(px, a.top); ctx.lineTo(px, a.top + 6);
    }
    for (let v = 1362.5; v < y.max; v += 0.5) {
      const py = Math.round(y.getPixelForValue(v)) + 0.5;
      const len = (v % 2 === 0) ? 8 : 4;
      ctx.moveTo(a.left, py); ctx.lineTo(a.left + len, py);
      ctx.moveTo(a.right, py); ctx.lineTo(a.right - len, py);
    }
    ctx.stroke();

    const X = v => x.getPixelForValue(v), Y = v => y.getPixelForValue(v);
    const plain = Chart.defaults.font.family;
    text(ctx, '(a)', X(1978.66), Y(1374.44), '19px ' + roundFont, '#111');
    text(ctx, 'ERB(NIMBUS7)', X(1985.0), Y(1373.28), '13px ' + roundFont, '#3cae5c');
    text(ctx, 'ACRIM I', X(1986.13), Y(1368.32), '10px ' + plain, '#f2a24a');
    text(ctx, 'ACRIM', X(1990.08), Y(1368.64), '14px ' + roundFont, '#2b2ba8');
    text(ctx, 'Gap', X(1990.08), Y(1368.01), '14px ' + roundFont, '#2b2ba8');
    text(ctx, 'ACRIM II + 0.120%', X(1994.76), Y(1368.52), '10px ' + plain, '#e673ad');
    text(ctx, 'SOVA2', X(1992.63), Y(1365.32), '10px ' + plain, '#3d6db0');
    text(ctx, 'VIRGO', X(1998.15), Y(1364.8), '10px ' + plain, '#222');
    text(ctx, 'ERBE(ERBS)', X(1987.14), Y(1363.64), '14px ' + roundFont, '#3cae5c');

    // 凡例
    const lx = X(1978.66);
    ctx.fillStyle = '#1d4f8e';
    ctx.fillRect(lx - 3.5, Y(1363.48) - 3.5, 7, 7);
    ctx.fillStyle = '#22a7e3';
    const dy = Y(1362.96);
    ctx.beginPath();
    ctx.moveTo(lx, dy - 4.5); ctx.lineTo(lx + 4, dy); ctx.lineTo(lx, dy + 4.5); ctx.lineTo(lx - 4, dy);
    ctx.closePath(); ctx.fill();
    text(ctx, 'JPLロケット観測', X(1979.27), Y(1363.48), '11.5px ' + jpFont, '#222', 'left');
    text(ctx, 'PMODロケット・気球観測', X(1979.27), Y(1362.96), '11.5px ' + jpFont, '#222', 'left');

    // 軸タイトル
    text(ctx, '西暦年', (a.left + a.right) / 2 + 2, 380, '15px ' + jpFont, '#222');
    ctx.translate(14.5, 190);
    ctx.rotate(-Math.PI / 2);
    const main = '太陽総放射量TSI(W m', sup = '−2', end = ')';
    ctx.font = '15px ' + jpFont;
    const w1 = ctx.measureText(main).width, w3 = ctx.measureText(end).width;
    ctx.font = '9px ' + jpFont;
    const w2 = ctx.measureText(sup).width;
    const x0 = -(w1 + w2 + w3) / 2;
    text(ctx, main, x0, 0, '15px ' + jpFont, '#222', 'left');
    text(ctx, sup, x0 + w1, -5, '9px ' + jpFont, '#222', 'left');
    text(ctx, end, x0 + w1 + w2, 0, '15px ' + jpFont, '#222', 'left');
    ctx.restore();
  }
};

new Chart(document.getElementById('chartA'), {
  type: 'scatter',
  data: {
    datasets: [
      { data: pairPoints(jplYears, jplTsi), pointStyle: 'rect', pointRadius: 4.8,
        pointBackgroundColor: '#1d4f8e', pointBorderWidth: 0 },
      { data: pairPoints(pmodYears, pmodTsi), pointStyle: 'rectRot', pointRadius: 4.3,
        pointBackgroundColor: '#22a7e3', pointBorderWidth: 0 },
      lineSet(toPoints(virgoStart, virgoStep, virgo), '#111', 1.1),
      lineSet(toPoints(sova2Start, sova2Step, sova2), '#2c5ea8', 1.5),
      lineSet(toPoints(acrim2Start, acrim2Step, acrim2), '#ec6fab', 0.9),
      lineSet(toPoints(acrim1Start, acrim1Step, acrim1), '#f39a30', 0.9),
      lineSet(toPoints(erbStart, erbStep, erb), '#3aad4e', 0.85),
      { data: toPoints(erbeStart, erbeStep, erbe), pointStyle: 'cross', pointRadius: 3.2,
        pointBorderColor: '#5cba62', pointBorderWidth: 1 },
      Object.assign(lineSet(boxPoints(gapYearsA, gapTsiA), '#6a63a8', 1), { borderDash: [3, 2] })
    ]
  },
  options: {
    responsive: false,
    animation: false,
    devicePixelRatio: 1,
    layout: { padding: { top: 27, right: 2, left: 0, bottom: 0 } },
    plugins: { legend: { display: false }, tooltip: { enabled: false } },
    scales: {
      x: {
        type: 'linear', min: 1977.46, max: 1999.52,
        afterBuildTicks: s => { s.ticks = yearTicksA.map(v => ({ value: v })); },
        afterFit: s => { s.height = 42; },
        grid: { display: false, drawTicks: false }, border: { display: false },
        ticks: { padding: 5, autoSkip: false, maxRotation: 0, font: { size: 10 }, color: '#333',
                 callback: v => String(v) }
      },
      y: {
        type: 'linear', min: 1362, max: 1375.04,
        afterBuildTicks: s => { s.ticks = tsiTicksA.map(v => ({ value: v })); },
        afterFit: s => { s.width = 53; },
        grid: { display: false, drawTicks: false }, border: { display: false },
        ticks: { padding: 5, font: { size: 10 }, color: '#333', callback: v => String(v) }
      }
    }
  },
  plugins: [decorA]
});

// ---------- (b) 装飾 ----------
const decorB = {
  id: 'decorB',
  beforeDatasetsDraw(chart) {
    const { ctx, chartArea: a, scales: { x, y } } = chart;
    ctx.save();
    ctx.strokeStyle = '#8a8a8a';
    ctx.lineWidth = 1;
    ctx.setLineDash([2, 2]);
    ctx.beginPath();
    yearTicksB.slice(1, -1).forEach(v => {
      const px = Math.round(x.getPixelForValue(v)) + 0.5;
      ctx.moveTo(px, a.top); ctx.lineTo(px, a.bottom);
    });
    tsiTicksB.slice(1, -1).forEach(v => {
      const py = Math.round(y.getPixelForValue(v)) + 0.5;
      ctx.moveTo(a.left, py); ctx.lineTo(a.right, py);
    });
    ctx.stroke();
    ctx.restore();
  },
  afterDatasetsDraw(chart) {
    const { ctx, chartArea: a, scales: { x, y } } = chart;
    const X = v => x.getPixelForValue(v), Y = v => y.getPixelForValue(v);
    ctx.save();
    // 凡例の白地
    ctx.fillStyle = '#fff';
    ctx.fillRect(X(1992.77), a.top, a.right - X(1992.77), Y(1373.63) - a.top);

    ctx.strokeStyle = '#555';
    ctx.lineWidth = 1;
    ctx.strokeRect(Math.round(a.left) + 0.5, Math.round(a.top) + 0.5, Math.round(a.width) - 1, Math.round(a.height) - 1);
    ctx.beginPath();
    yearTicksB.slice(1, -1).forEach(v => {
      const px = Math.round(X(v)) + 0.5;
      ctx.moveTo(px, a.bottom); ctx.lineTo(px, a.bottom - 5);
      ctx.moveTo(px, a.top); ctx.lineTo(px, a.top + 5);
    });
    tsiTicksB.slice(1, -1).forEach(v => {
      const py = Math.round(Y(v)) + 0.5;
      ctx.moveTo(a.left, py); ctx.lineTo(a.left + 5, py);
      ctx.moveTo(a.right, py); ctx.lineTo(a.right - 5, py);
    });
    ctx.stroke();

    text(ctx, '(b)', X(1986.45), Y(1375.4), '19px ' + roundFont, '#111');
    text(ctx, 'ACRIM Gap', X(1990.7), Y(1368.59), '17px ' + roundFont, '#2424b4');

    const rows = [1375.61, 1375.14, 1374.67, 1374.21];
    const dotColors = ['#ff1010', '#22ee22', '#1010bb', '#c030e0'];
    legendB.forEach((s, i) => {
      text(ctx, s, X(1994.92), Y(rows[i]), '11px ' + Chart.defaults.font.family, '#222', 'right');
      ctx.fillStyle = dotColors[i];
      ctx.beginPath();
      ctx.arc(X(1995.45), Y(rows[i]), 1.4, 0, Math.PI * 2);
      ctx.fill();
    });

    text(ctx, '西暦年', (a.left + a.right) / 2 - 4, 380, '15px ' + jpFont, '#222');
    ctx.restore();
  }
};

new Chart(document.getElementById('chartB'), {
  type: 'scatter',
  data: {
    datasets: [
      lineSet(pairPoints(trendYears, trendNimbus), '#000', 3),
      lineSet(pairPoints(trendYears, trendErbs), '#000', 3),
      Object.assign(lineSet(boxPoints(gapYearsB, gapTsiB), '#7c7c9c', 1), { borderDash: [3, 2] }),
      dotSet(toPoints(nimbusStart, stepB, nimbus), '#ff1010', 1.8),
      dotSet(toPoints(nimbusBStart, stepB, nimbusB), '#ff1010', 1.8),
      dotSet(toPoints(nimbusLateStart, stepB, nimbusLate), '#ff1010', 1.8),
      dotSet(toPoints(acrimOneStart, stepB, acrimOne), '#22ee22', 1.8),
      dotSet(toPoints(acrimOneBStart, stepB, acrimOneB), '#22ee22', 1.8),
      dotSet(toPoints(acrimTwoStart, stepB, acrimTwo), '#1010dd', 1.8),
      dotSet(toPoints(acrimTwoBStart, stepB, acrimTwoB), '#1010dd', 1.8),
      dotSet(toPoints(erbsStart, erbsStep, erbs), '#e020e0', 1.5)
    ]
  },
  options: {
    responsive: false,
    animation: false,
    devicePixelRatio: 1,
    layout: { padding: { top: 26, right: 16, left: 0, bottom: 0 } },
    plugins: { legend: { display: false }, tooltip: { enabled: false } },
    scales: {
      x: {
        type: 'linear', min: 1986, max: 1996,
        afterBuildTicks: s => { s.ticks = yearTicksB.map(v => ({ value: v })); },
        afterFit: s => { s.height = 44; },
        grid: { display: false, drawTicks: false }, border: { display: false },
        ticks: { padding: 5, autoSkip: false, maxRotation: 0, font: { size: 11 }, color: '#333',
                 callback: v => String(v) }
      },
      y: {
        type: 'linear', min: 1362, max: 1376,
        afterBuildTicks: s => { s.ticks = tsiTicksB.map(v => ({ value: v })); },
        afterFit: s => { s.width = 41; },
        grid: { display: false, drawTicks: false }, border: { display: false },
        ticks: { padding: 8, font: { size: 11 }, color: '#333', callback: v => String(v) }
      }
    }
  },
  plugins: [decorB]
});
</script>
</body>
</html>
